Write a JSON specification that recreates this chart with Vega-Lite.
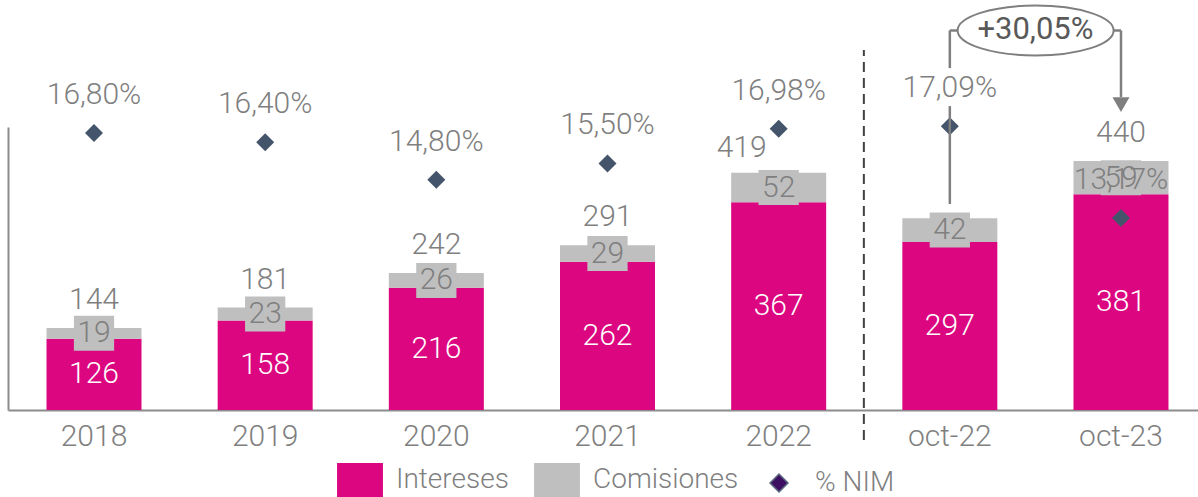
{
  "$schema": "https://vega.github.io/schema/vega-lite/v6.json",
  "width": 1190,
  "height": 283,
  "autosize": {"type": "none"},
  "padding": {"left": 8, "top": 127, "right": 0, "bottom": 87},
  "config": {
    "view": {"stroke": null},
    "font": "Roboto, sans-serif",
    "text": {"fontWeight": 300},
    "locale": {"number": {"decimal": ",", "thousands": ".", "grouping": [3], "currency": ["", " €"]}},
    "axisX": {"title": null, "labelFontSize": 30, "labelFontWeight": 300, "labelColor": "#7f7f7f", "ticks": false, "domainColor": "#8c8c8c", "domainWidth": 2, "labelPadding": 11, "labelAngle": 0, "grid": false},
    "axisY": {"title": null, "labels": false, "ticks": false, "grid": false, "domainColor": "#8c8c8c", "domainWidth": 2}
  },
  "datasets": {
    "d": [
      {"periodo": "2018", "Intereses": 126, "Comisiones": 19, "total": 144, "nim": 0.168},
      {"periodo": "2019", "Intereses": 158, "Comisiones": 23, "total": 181, "nim": 0.164},
      {"periodo": "2020", "Intereses": 216, "Comisiones": 26, "total": 242, "nim": 0.148},
      {"periodo": "2021", "Intereses": 262, "Comisiones": 29, "total": 291, "nim": 0.155},
      {"periodo": "2022", "Intereses": 367, "Comisiones": 52, "total": 419, "nim": 0.1698},
      {"periodo": "oct-22", "Intereses": 297, "Comisiones": 42, "total": null, "nim": 0.1709},
      {"periodo": "oct-23", "Intereses": 381, "Comisiones": 59, "total": 440, "nim": 0.1317}
    ]
  },
  "resolve": {"scale": {"y": "independent"}},
  "layer": [
    {
      "data": {"name": "d"},
      "transform": [{"fold": ["Intereses", "Comisiones"], "as": ["serie", "valor"]}],
      "mark": {"type": "bar"},
      "encoding": {
        "x": {"field": "periodo", "type": "nominal", "sort": ["2018", "2019", "2020", "2021", "2022", "oct-22", "oct-23"], "scale": {"range": [0, 1199], "paddingInner": 0.445, "paddingOuter": 0.225}},
        "y": {"field": "valor", "type": "quantitative", "stack": "zero", "scale": {"domain": [0, 500]}},
        "order": {"field": "serie", "sort": "descending"},
        "color": {
          "field": "serie", "type": "nominal",
          "scale": {"domain": ["Intereses", "Comisiones", "% NIM"], "range": ["#dc0680", "#bfbfbf", "#3d0f63"]},
          "legend": {
            "title": null, "orient": "none", "legendX": 334, "legendY": 335, "direction": "horizontal",
            "labelFontSize": 28, "labelFontWeight": 300, "labelColor": "#7f7f7f", "labelOffset": 18, "labelLimit": 400, "columnPadding": 22, "padding": 0,
            "symbolSize": 1156, "symbolType": "M-1.35,-1L1.35,-1L1.35,1L-1.35,1Z", "symbolStrokeWidth": 0,
            "encode": {
              "symbols": {
                "update": {
                  "shape": {"signal": "datum.label === '% NIM' ? 'diamond' : 'M-1.35,-1L1.35,-1L1.35,1L-1.35,1Z'"},
                  "size": {"signal": "datum.label === '% NIM' ? 324 : 1156"},
                  "stroke": {"signal": "datum.label === '% NIM' ? '#5a6b80' : 'transparent'"},
                  "strokeWidth": {"value": 1.5},
                  "opacity": {"value": 1}
                }
              }
            }
          }
        }
      }
    },
    {
      "data": {"name": "d"},
      "transform": [{"fold": ["Intereses", "Intereses", "Comisiones"], "as": ["k", "v"]}],
      "mark": {"type": "point", "shape": "M-1.15,-1L1.15,-1L1.15,1L-1.15,1Z", "size": 1225, "filled": true, "color": "#bfbfbf", "opacity": 1},
      "encoding": {
        "x": {"field": "periodo", "type": "nominal", "sort": ["2018", "2019", "2020", "2021", "2022", "oct-22", "oct-23"]},
        "y": {"aggregate": "sum", "field": "v", "type": "quantitative", "scale": {"domain": [0, 1000]}, "axis": null}
      }
    },
    {
      "data": {"name": "d"},
      "transform": [{"fold": ["Intereses", "Intereses", "Comisiones"], "as": ["k", "v"]}],
      "mark": {"type": "text", "fontSize": 30, "color": "#7f7f7f", "baseline": "middle"},
      "encoding": {
        "x": {"field": "periodo", "type": "nominal", "sort": ["2018", "2019", "2020", "2021", "2022", "oct-22", "oct-23"]},
        "y": {"aggregate": "sum", "field": "v", "type": "quantitative", "scale": {"domain": [0, 1000]}, "axis": null},
        "text": {"aggregate": "max", "field": "Comisiones", "type": "quantitative", "format": "d"}
      }
    },
    {
      "data": {"name": "d"},
      "mark": {"type": "text", "fontSize": 30, "color": "white", "baseline": "middle"},
      "encoding": {
        "x": {"field": "periodo", "type": "nominal", "sort": ["2018", "2019", "2020", "2021", "2022", "oct-22", "oct-23"]},
        "y": {"field": "Intereses", "type": "quantitative", "scale": {"domain": [0, 1000]}, "axis": null},
        "text": {"field": "Intereses", "type": "quantitative", "format": "d"}
      }
    },
    {
      "data": {"name": "d"},
      "transform": [{"filter": "isValid(datum.total) && datum.periodo !== '2022'"}],
      "mark": {"type": "text", "fontSize": 30, "color": "#7f7f7f", "baseline": "middle", "dy": -28},
      "encoding": {
        "x": {"field": "periodo", "type": "nominal", "sort": ["2018", "2019", "2020", "2021", "2022", "oct-22", "oct-23"]},
        "y": {"field": "total", "type": "quantitative", "scale": {"domain": [0, 500]}, "axis": null},
        "text": {"field": "total", "type": "quantitative", "format": "d"}
      }
    },
    {
      "data": {"name": "d"},
      "transform": [{"filter": "datum.periodo === '2022'"}],
      "mark": {"type": "text", "fontSize": 30, "color": "#7f7f7f", "baseline": "middle", "dy": -25, "dx": -37},
      "encoding": {
        "x": {"field": "periodo", "type": "nominal", "sort": ["2018", "2019", "2020", "2021", "2022", "oct-22", "oct-23"]},
        "y": {"field": "total", "type": "quantitative", "scale": {"domain": [0, 500]}, "axis": null},
        "text": {"field": "total", "type": "quantitative", "format": "d"}
      }
    },
    {
      "data": {"name": "d"},
      "mark": {"type": "point", "shape": "diamond", "filled": true, "size": 324, "opacity": 1, "color": "#44546a"},
      "encoding": {
        "x": {"field": "periodo", "type": "nominal", "sort": ["2018", "2019", "2020", "2021", "2022", "oct-22", "oct-23"]},
        "y": {"field": "nim", "type": "quantitative", "scale": {"domain": [0.04972, 0.17056]}, "axis": null}
      }
    },
    {
      "data": {"values": [{}]},
      "mark": {"type": "rule", "color": "#7f7f7f", "strokeWidth": 2.5},
      "encoding": {
        "x": {"datum": "oct-22", "type": "nominal"},
        "y": {"datum": 364, "type": "quantitative", "scale": {"domain": [0, 500]}, "axis": null},
        "y2": {"datum": 537}
      }
    },
    {
      "data": {"values": [{}]},
      "mark": {"type": "rule", "color": "#7f7f7f", "strokeWidth": 2.5},
      "encoding": {
        "x": {"datum": "oct-22", "type": "nominal"},
        "y": {"datum": 604, "type": "quantitative", "scale": {"domain": [0, 500]}, "axis": null},
        "y2": {"datum": 670.5}
      }
    },
    {
      "data": {"values": [{}]},
      "mark": {"type": "rule", "color": "#7f7f7f", "strokeWidth": 2.5},
      "encoding": {
        "x": {"datum": "oct-22", "type": "nominal"},
        "x2": {"datum": "oct-23"},
        "y": {"datum": 670.5, "type": "quantitative", "scale": {"domain": [0, 500]}, "axis": null}
      }
    },
    {
      "data": {"values": [{}]},
      "mark": {"type": "rule", "color": "#7f7f7f", "strokeWidth": 2.5},
      "encoding": {
        "x": {"datum": "oct-23", "type": "nominal"},
        "y": {"datum": 553, "type": "quantitative", "scale": {"domain": [0, 500]}, "axis": null},
        "y2": {"datum": 670.5}
      }
    },
    {
      "data": {"values": [{}]},
      "mark": {"type": "point", "shape": "triangle-down", "size": 289, "filled": true, "color": "#7f7f7f", "opacity": 1},
      "encoding": {
        "x": {"datum": "oct-23", "type": "nominal"},
        "y": {"datum": 539.6, "type": "quantitative", "scale": {"domain": [0, 500]}, "axis": null}
      }
    },
    {
      "data": {"values": [{}]},
      "mark": {"type": "point", "shape": "M0.1,0 A1,0.32 0 1,1 2.1,0 A1,0.32 0 1,1 0.1,0 Z", "size": 24336, "filled": true, "fill": "white", "stroke": "#7f7f7f", "strokeWidth": 2, "opacity": 1},
      "encoding": {
        "x": {"datum": "oct-22", "type": "nominal"},
        "y": {"datum": 670.5, "type": "quantitative", "scale": {"domain": [0, 500]}, "axis": null}
      }
    },
    {
      "data": {"values": [{}]},
      "mark": {"type": "text", "text": "+30,05%", "fontSize": 31, "fontWeight": 400, "color": "#595959", "baseline": "middle", "dx": 85.6},
      "encoding": {
        "x": {"datum": "oct-22", "type": "nominal"},
        "y": {"datum": 670.5, "type": "quantitative", "scale": {"domain": [0, 500]}, "axis": null}
      }
    },
    {
      "data": {"name": "d"},
      "mark": {"type": "text", "fontSize": 30, "color": "#7f7f7f", "baseline": "middle", "dy": -38},
      "encoding": {
        "x": {"field": "periodo", "type": "nominal", "sort": ["2018", "2019", "2020", "2021", "2022", "oct-22", "oct-23"]},
        "y": {"field": "nim", "type": "quantitative", "scale": {"domain": [0.04972, 0.17056]}, "axis": null},
        "text": {"field": "nim", "type": "quantitative", "format": ".2%"}
      }
    },
    {
      "data": {"values": [{}]},
      "mark": {"type": "rule", "color": "#404040", "strokeWidth": 2, "strokeDash": [10, 6]},
      "encoding": {
        "x": {"datum": "oct-22", "type": "nominal", "bandPosition": -0.405},
        "y": {"datum": -53, "type": "quantitative", "scale": {"domain": [0, 500]}, "axis": null},
        "y2": {"datum": 636}
      }
    }
  ]
}
